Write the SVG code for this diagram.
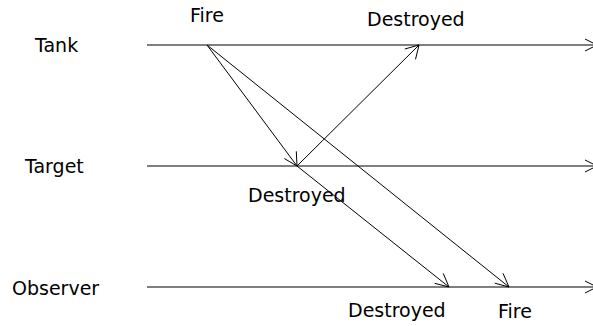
<svg xmlns="http://www.w3.org/2000/svg" width="593" height="326" viewBox="0 0 593 326">
  <style>
    .lbl { font-family: "DejaVu Sans", sans-serif; font-size: 19px; fill: #000; }
    .life { stroke: #000; stroke-width: 1.2; fill: none; }
    .msg { stroke: #000; stroke-width: 1; fill: none; }
    .head { stroke: #000; stroke-width: 1; fill: none; }
  </style>
  <rect width="593" height="326" fill="#fff"/>

  <g id="tank">
    <text class="lbl" x="35" y="52">Tank</text>
    <line class="life" x1="147" y1="45" x2="593" y2="45"/>
    <path class="head" d="M585,39 L597,45 L585,51"/>
  </g>
  <g id="target">
    <text class="lbl" x="25" y="173">Target</text>
    <line class="life" x1="147" y1="166" x2="593" y2="166"/>
    <path class="head" d="M585,160 L597,166 L585,172"/>
  </g>
  <g id="observer">
    <text class="lbl" x="12" y="295">Observer</text>
    <line class="life" x1="147" y1="287" x2="593" y2="287"/>
    <path class="head" d="M585,281 L597,287 L585,293"/>
  </g>

  <g id="events">
    <text class="lbl" x="190" y="22">Fire</text>
    <text class="lbl" x="367" y="26">Destroyed</text>
    <text class="lbl" x="248" y="202">Destroyed</text>
    <text class="lbl" x="348" y="317">Destroyed</text>
    <text class="lbl" x="498" y="318">Fire</text>
  </g>

  <g id="connectors">
    <!-- Tank fires at Target -->
    <line class="msg" x1="207" y1="45" x2="297" y2="166"/>
    <path class="head" d="M296.3,151.3 L297,166 L284.3,158.5"/>
    <!-- Target reports destruction to Tank -->
    <line class="msg" x1="297" y1="166" x2="419" y2="45"/>
    <path class="head" d="M404.8,49 L419,45 L415.5,59.4"/>
    <!-- Target destruction seen by Observer -->
    <line class="msg" x1="297" y1="166" x2="449" y2="287"/>
    <path class="head" d="M434.7,283.3 L449,287 L443.2,273.4"/>
    <!-- Fire seen by Observer -->
    <line class="msg" x1="207" y1="45" x2="509" y2="287"/>
    <path class="head" d="M494.8,283.2 L509,287 L503.0,273.3"/>
  </g>
</svg>
